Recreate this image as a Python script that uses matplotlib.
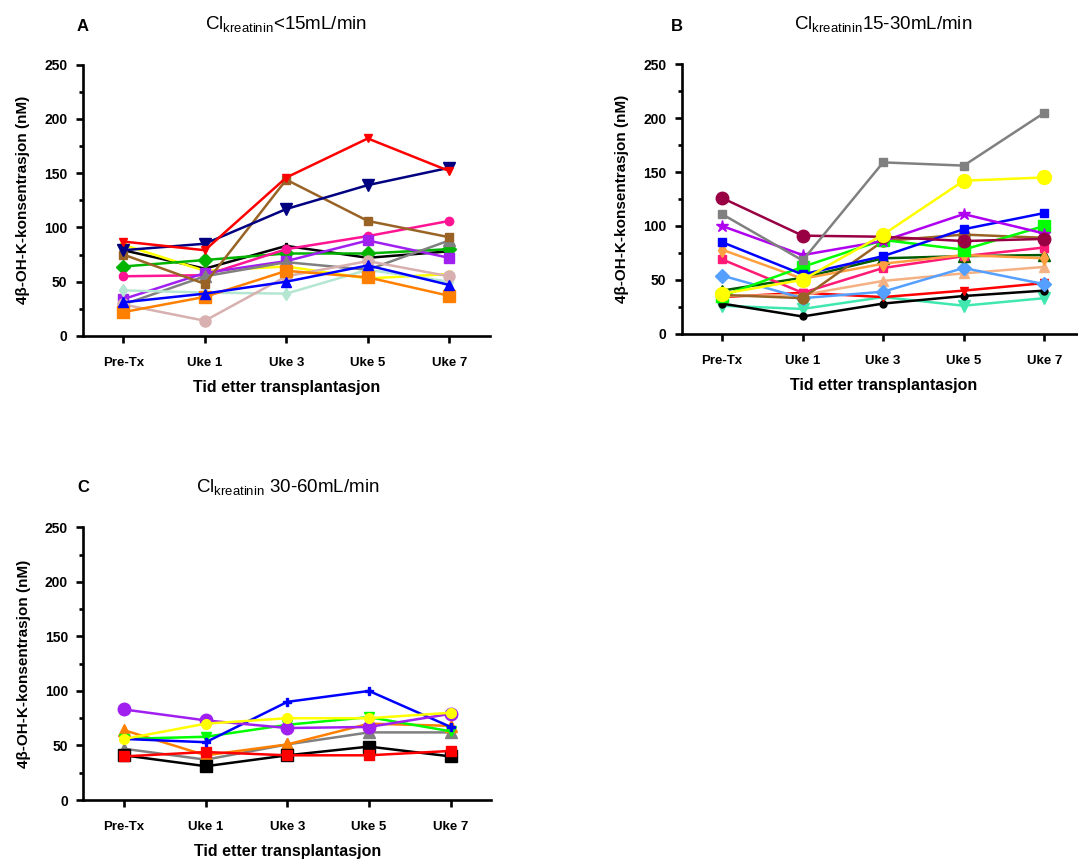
import numpy as np
import matplotlib
matplotlib.use('Agg')
import matplotlib.pyplot as plt
from matplotlib.ticker import MultipleLocator

plt.rcParams['font.family'] = ['Liberation Sans', 'DejaVu Sans']
plt.rcParams['mathtext.fontset'] = 'custom'
plt.rcParams['mathtext.rm'] = 'Liberation Sans'

# time points
timepoints = ['Pre-Tx', 'Uke 1', 'Uke 3', 'Uke 5', 'Uke 7']

# Panel A: Cl kreatinin < 15 mL/min (one list per patient)
panel_a = [
    [79, 62, 83, 72, 78],      # black
    [84, 60, 64, 53, 57],      # yellow
    [64, 70, 76, 76, 80],      # green
    [55, 56, 80, 92, 106],     # pink
    [34, 58, 69, 88, 72],      # purple
    [29, 55, 68, 61, 88],      # gray
    [42, 40, 39, 61, 50],      # mint
    [29, 14, 55, 69, 55],      # rosy brown
    [22, 36, 60, 54, 37],      # orange
    [31, 39, 50, 65, 47],      # blue
    [75, 48, 144, 106, 91],    # brown
    [79, 85, 117, 139, 155],   # navy
    [87, 79, 146, 182, 152],   # red
]

# Panel B: Cl kreatinin 15-30 mL/min
panel_b = [
    [26, 23, 34, 26, 33],      # turquoise
    [28, 16, 28, 35, 40],      # black
    [34, 38, 34, 40, 47],      # red
    [35, 36, 49, 56, 62],      # peach
    [54, 33, 39, 61, 46],      # light blue
    [40, 52, 70, 72, 73],      # dark green
    [69, 38, 61, 72, 80],      # pink
    [78, 51, 65, 73, 70],      # light orange
    [36, 33, 86, 92, 89],      # brown
    [35, 62, 87, 78, 100],     # green
    [85, 55, 72, 97, 112],     # blue
    [100, 73, 86, 111, 93],    # purple
    [126, 91, 90, 86, 88],     # maroon
    [111, 68, 159, 156, 205],  # gray
    [37, 50, 92, 142, 145],    # yellow
]

# Panel C: Cl kreatinin 30-60 mL/min
panel_c = [
    [47, 37, 51, 62, 62],      # gray
    [64, 41, 51, 70, 68],      # orange
    [41, 31, 41, 49, 40],      # black
    [40, 44, 41, 41, 45],      # red
    [56, 58, 69, 76, 63],      # green
    [56, 53, 90, 100, 67],     # blue
    [83, 73, 66, 67, 79],      # purple
    [56, 70, 75, 75, 80],      # yellow
]

titles = [r'Cl$_{\mathregular{kreatinin}}$<15mL/min',
          r'Cl$_{\mathregular{kreatinin}}$15-30mL/min',
          r'Cl$_{\mathregular{kreatinin}}$ 30-60mL/min']
letters = ['A', 'B', 'C']

# styles (color, marker, markersize) per series
style_a = [('black', 'P', 5), ('#FFFF00', 'o', 5), ('#00B400', 'D', 7),
           ('#FF1493', 'o', 6), ('#A020F0', 's', 7), ('#808080', '^', 8),
           ('#B4E6D2', 'd', 6), ('#D8B0B0', 'o', 8), ('#FF8000', 's', 8),
           ('#0000FF', '^', 7), ('#996326', 's', 6), ('#000080', 'v', 9),
           ('#FF0000', 'v', 6)]
style_b = [('#40E8B0', 'v', 8), ('black', 'o', 5), ('#FF0000', 'v', 6),
           ('#F4B183', '^', 7), ('#55A0FF', 'D', 7), ('#005A00', '^', 8),
           ('#FF1A75', 's', 6), ('#FFA040', 'd', 7), ('#996326', 'o', 8),
           ('#00FF00', 's', 8), ('#0000FF', 's', 6), ('#B000F0', '*', 9),
           ('#990044', 'o', 9), ('#808080', 's', 6), ('#FFFF00', 'o', 10)]
style_c = [('#808080', '^', 8), ('#FF8000', '^', 8), ('black', 's', 8),
           ('#FF0000', 's', 7), ('#00FF00', 'v', 7), ('#0000FF', 'P', 6),
           ('#A020F0', 'o', 9), ('#FFFF00', 'o', 7)]

fig = plt.figure(figsize=(10.78, 8.61), dpi=100)
rects = [[0.0767, 0.6098, 0.3778, 0.3151],
         [0.6324, 0.6124, 0.3737, 0.3129],
         [0.0773, 0.0708, 0.3786, 0.3168]]
letter_pos = [(0.0, 1.14), (-0.012, 1.14), (0.0, 1.144)]
x = np.arange(len(timepoints))

for rect, data, styles, title, letter, lpos in zip(rects, [panel_a, panel_b, panel_c],
                                                   [style_a, style_b, style_c],
                                                   titles, letters, letter_pos):
    ax = fig.add_axes(rect)
    for vals, (col, mk, ms) in zip(data, styles):
        ax.plot(x, vals, color=col, marker=mk, markersize=ms, linewidth=1.8,
                clip_on=False)
    ax.set_xlim(-0.5, 4.5)
    ax.set_ylim(0, 250)
    ax.yaxis.set_major_locator(MultipleLocator(50))
    ax.yaxis.set_minor_locator(MultipleLocator(25))
    ax.set_xticks(x)
    ax.set_xticklabels(timepoints, fontsize=9.5, fontweight='bold')
    for lab in ax.get_yticklabels():
        lab.set_fontsize(10)
        lab.set_fontweight('bold')
    ax.spines['top'].set_visible(False)
    ax.spines['right'].set_visible(False)
    ax.spines['left'].set_linewidth(1.9)
    ax.spines['bottom'].set_linewidth(1.9)
    ax.tick_params(axis='both', which='major', length=5, width=1.9, direction='out')
    ax.tick_params(axis='y', which='minor', length=3, width=1.9)
    ax.tick_params(axis='x', pad=10)
    ax.tick_params(axis='y', pad=6)
    ax.set_xlabel('Tid etter transplantasjon', fontsize=11.5, fontweight='bold', labelpad=8)
    ax.set_ylabel('4β-OH-K-konsentrasjon (nM)', fontsize=11, fontweight='bold', labelpad=10)
    ax.set_title(title, fontsize=13.5, pad=25)
    ax.text(lpos[0], lpos[1], letter, transform=ax.transAxes, fontsize=12,
            fontweight='bold', ha='center', va='center')

plt.savefig('out.png', dpi=100)
